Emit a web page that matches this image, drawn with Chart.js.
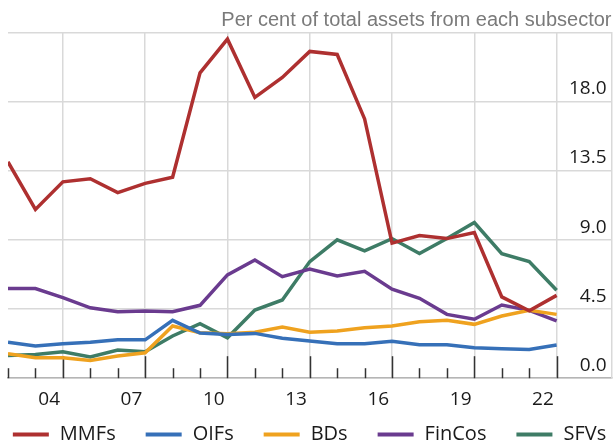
<!DOCTYPE html>
<html><head><meta charset="utf-8">
<script src="https://cdn.jsdelivr.net/npm/chart.js@4/dist/chart.umd.min.js"></script>
<style>html,body{margin:0;padding:0;background:#fff}</style>
</head><body>
<canvas id="c" width="613" height="442"></canvas>
<script>
// Year-end observations
const years = [2002,2003,2004,2005,2006,2007,2008,2009,2010,2011,2012,2013,2014,2015,2016,2017,2018,2019,2020,2021,2022];
const tickYears = [2004,2007,2010,2013,2016,2019,2022];
const tickLabels = ['04','07','10','13','16','19','22'];
const yTicks = [0,4.5,9,13.5,18,22.5];

const mmfs   = [14.1,11.0,12.8,13.0,12.1,12.7,13.1,19.9,22.1,18.3,19.6,21.3,21.1,16.9,8.8,9.3,9.1,9.5,5.3,4.4,5.4];
const oifs   = [2.35,2.1,2.24,2.35,2.5,2.5,3.77,2.94,2.85,2.92,2.6,2.42,2.24,2.24,2.4,2.18,2.18,1.98,1.92,1.87,2.16];
const bds    = [1.59,1.33,1.33,1.16,1.44,1.66,3.4,2.96,2.9,3.0,3.33,3.0,3.07,3.29,3.4,3.68,3.77,3.51,4.05,4.42,4.16];
const fincos = [5.84,5.84,5.25,4.59,4.33,4.38,4.33,4.75,6.73,7.71,6.62,7.12,6.67,6.97,5.8,5.21,4.16,3.84,4.77,4.42,3.73];
const sfvs   = [1.48,1.55,1.72,1.39,1.83,1.72,2.75,3.55,2.63,4.44,5.1,7.6,9.02,8.3,9.1,8.12,9.1,10.15,8.12,7.6,5.73];

const seriesNames = ['MMFs','OIFs','BDs','FinCos','SFVs'];
const seriesValues = [mmfs, oifs, bds, fincos, sfvs];
const seriesColors = ['#AE3030','#3670B8','#EFA21F','#6A3B8F','#3E7C66'];

const yearTickMarks = {
  id: 'yearTickMarks',
  beforeDatasetsDraw(chart) {
    const {ctx, chartArea, scales: {x}} = chart;
    ctx.save();
    ctx.strokeStyle = '#333';
    ctx.lineWidth = 1.5;
    for (const yr of years) {
      const px = Math.round(x.getPixelForValue(yr)) + 0.5;
      const len = tickYears.includes(yr) ? 22 : 10;
      ctx.beginPath();
      ctx.moveTo(px, chartArea.bottom);
      ctx.lineTo(px, chartArea.bottom - len);
      ctx.stroke();
    }
    ctx.restore();
  }
};

// Bottom legend (line swatch + label), spaced like the original
const bottomLegend = {
  id: 'bottomLegend',
  afterDraw(chart) {
    const ctx = chart.ctx;
    const lineW = 36, gap = 11, pad = 30, cy = 434.5, cx = 309.5;
    ctx.save();
    ctx.font = '20px "Open Sans"';
    ctx.textBaseline = 'middle';
    ctx.textAlign = 'left';
    const items = chart.data.datasets.map(d => ({text: d.label, color: d.borderColor, w: ctx.measureText(d.label).width}));
    const total = items.reduce((s, it) => s + lineW + gap + it.w, 0) + pad * (items.length - 1);
    let x = cx - total / 2;
    for (const it of items) {
      ctx.fillStyle = it.color;
      ctx.fillRect(x, cy - 2, lineW, 4);
      ctx.fillStyle = '#1a1a1a';
      ctx.fillText(it.text, x + lineW + gap, cy);
      x += lineW + gap + it.w + pad;
    }
    ctx.restore();
  }
};

new Chart(document.getElementById('c'), {
  type: 'line',
  data: {
    datasets: seriesNames.map((n, k) => ({
      label: n,
      data: years.map((yr, i) => ({x: yr, y: seriesValues[k][i]})),
      borderColor: seriesColors[k],
      backgroundColor: seriesColors[k],
      borderWidth: 3.5,
      pointRadius: 0,
      tension: 0,
      fill: false
    }))
  },
  options: {
    responsive: false,
    animation: false,
    layout: {padding: {left: 0, right: 1.5, top: 0, bottom: 21}},
    plugins: {
      title: {
        display: true,
        text: 'Per cent of total assets from each subsector',
        align: 'end',
        fullSize: false,
        color: '#7a7a7a',
        font: {family: 'Liberation Sans', size: 20, weight: 'normal'},
        padding: {top: 8, bottom: 1}
      },
      legend: {display: false},
      tooltip: {enabled: false}
    },
    scales: {
      x: {
        type: 'linear',
        min: 2002,
        max: 2024,
        afterBuildTicks: axis => { axis.ticks = tickYears.map(v => ({value: v})); },
        ticks: {
          autoSkip: false,
          maxRotation: 0,
          labelOffset: -13.7,
          padding: 10,
          color: '#1a1a1a',
          font: {family: 'Open Sans', size: 19},
          callback: v => tickLabels[tickYears.indexOf(v)]
        },
        grid: {color: '#d9d9d9', lineWidth: 1.5, drawTicks: false},
        border: {color: '#b5b5b5', width: 1.5}
      },
      y: {
        position: 'right',
        min: 0,
        max: 22.5,
        afterBuildTicks: axis => { axis.ticks = yTicks.map(v => ({value: v})); },
        afterFit: axis => { axis.width = 0; },
        ticks: {
          mirror: true,
          labelOffset: -13,
          padding: -5,
          color: '#1a1a1a',
          font: {family: 'Open Sans', size: 19},
          callback: v => (v === 22.5 ? '' : v.toFixed(1))
        },
        grid: {color: '#d9d9d9', lineWidth: 1.5, drawTicks: false},
        border: {color: '#d9d9d9', width: 1.5}
      },
      yPad: {
        position: 'left',
        display: true,
        afterFit: axis => { axis.width = 8; },
        ticks: {display: false},
        grid: {display: false, drawTicks: false},
        border: {display: false}
      }
    }
  },
  plugins: [yearTickMarks, bottomLegend]
});
</script>
</body></html>
